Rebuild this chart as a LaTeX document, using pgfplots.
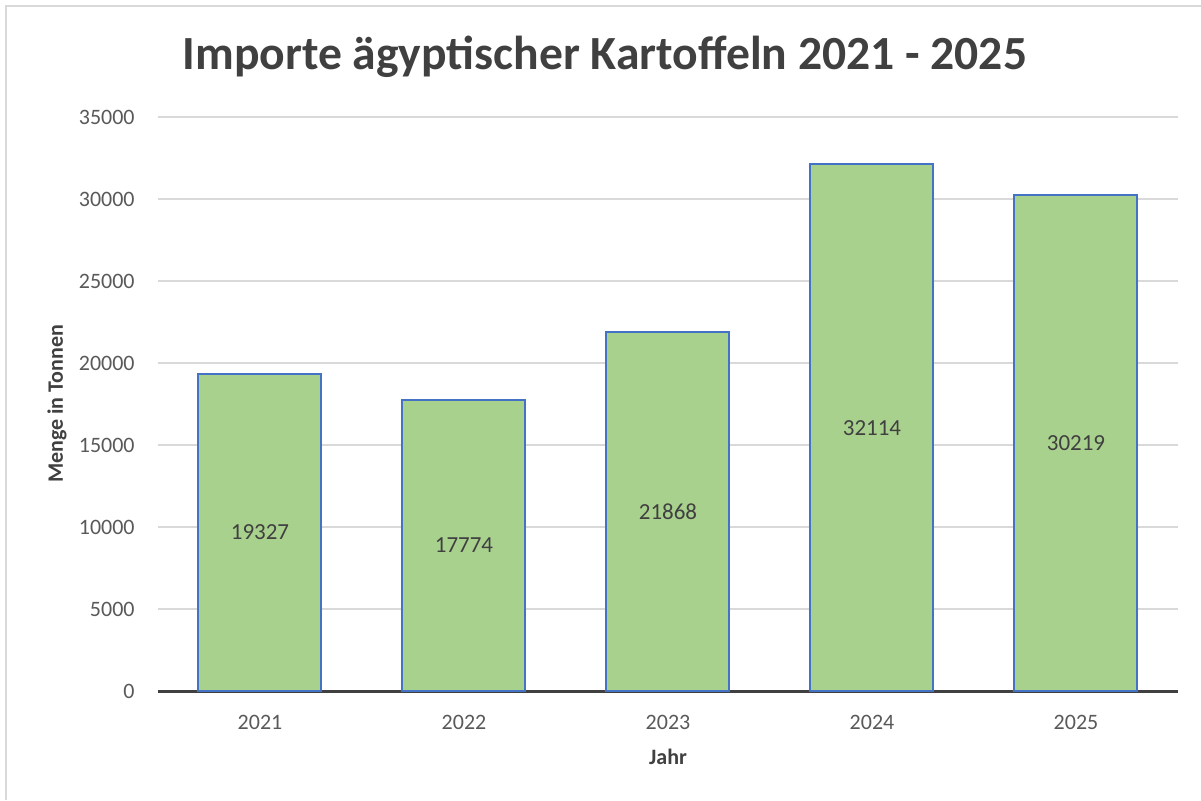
\documentclass[border=0pt]{standalone}
\usepackage{pgfplots}
\pgfplotsset{compat=1.18}
\usepackage{pgfplotstable}
\usepackage{fontspec}
\setmainfont{Carlito}
\definecolor{barfill}{HTML}{A9D18E}
\definecolor{barline}{HTML}{4472C4}
\definecolor{gridc}{HTML}{D9D9D9}
\definecolor{txt}{HTML}{595959}
\definecolor{ttl}{HTML}{404040}
\pgfplotstableread{
x v
0 19327
1 17774
2 21868
3 32114
4 30219
}\imports
\begin{document}
\begin{tikzpicture}
\path[use as bounding box] (0,0) rectangle (600.5pt,400pt);
\draw[gridc, line width=1pt] (3pt,0) -- (3pt,397pt) -- (600.5pt,397pt);
\node[ttl, font=\fontsize{23.8}{28}\selectfont\bfseries] at (302.5pt,371.5pt) {Importe ägyptischer Kartoffeln 2021 - 2025};
\begin{axis}[
  at={(79pt,54.5pt)}, anchor=south west,
  scale only axis, width=510pt, height=287pt,
  xmin=-0.5, xmax=4.5, ymin=0, ymax=35000,
  enlargelimits=false,
  axis x line=bottom, axis y line=left,
  x axis line style={-, draw=ttl, line width=1.5pt},
  y axis line style={draw=none},
  xtick=data, xticklabels={2021,2022,2023,2024,2025},
  ytick distance=5000,
  major tick length=0pt,
  ymajorgrids, grid style={gridc, line width=0.75pt},
  /pgf/number format/assume math mode=true,
  scaled y ticks=false,
  yticklabel={\pgfmathprintnumber[fixed,1000 sep={}]{\tick}},
  tick label style={font=\fontsize{11}{13}\selectfont, text=txt},
  yticklabel style={inner sep=0pt, xshift=-11.5pt},
  xticklabel style={anchor=center, inner sep=0pt, yshift=-15.5pt},
  xlabel={Jahr}, ylabel={Menge in Tonnen},
  label style={font=\fontsize{11}{13}\selectfont\bfseries, text=ttl},
  xlabel style={at={(axis description cs:0.5,-0.115)}, anchor=center},
  ylabel style={at={(axis description cs:-0.099,0.5)}, anchor=center},
  ybar, bar width=61.5pt, bar shift=0pt,
]
\addplot[fill=barfill, draw=barline, line width=1pt] table[x=x, y=v] {\imports};
\addplot[draw=none, fill=none, forget plot,
  nodes near coords, point meta=explicit,
  every node near coord/.append style={anchor=center, font=\fontsize{11.5}{13}\selectfont, text=ttl},
  nodes near coords={\pgfmathprintnumber[fixed,1000 sep={},assume math mode=true]{\pgfplotspointmeta}}]
  table[x=x, y expr=\thisrow{v}/2, meta=v] {\imports};
\end{axis}
\end{tikzpicture}
\end{document}
